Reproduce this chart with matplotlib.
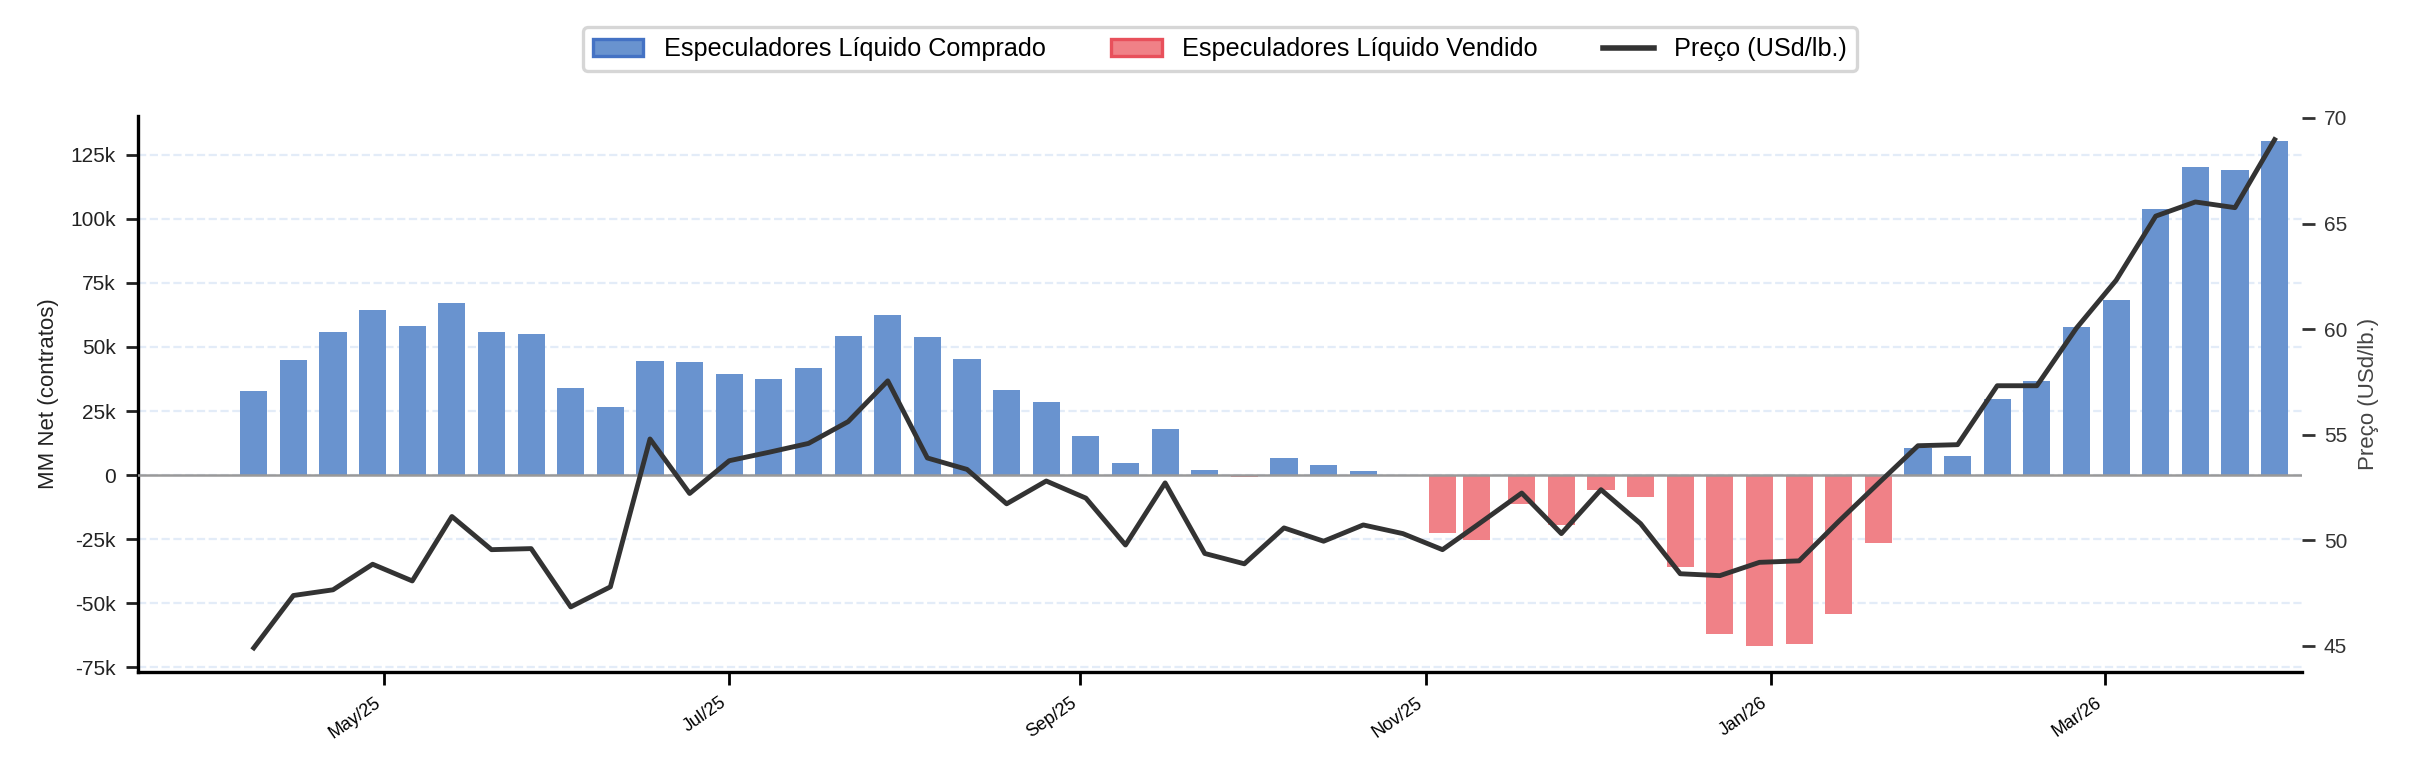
import matplotlib
matplotlib.use("Agg")
import matplotlib.pyplot as plt
import matplotlib.dates as mdates
from matplotlib.patches import Patch
from matplotlib.lines import Line2D
from matplotlib.ticker import FuncFormatter, MultipleLocator
import pandas as pd

plt.rcParams['font.family'] = ['Liberation Sans', 'DejaVu Sans']

# --- data (COT report dates, MM net in thousand contracts, price in USd/lb) ---
dates = [
    '2025-04-08', '2025-04-15', '2025-04-22', '2025-04-29', '2025-05-06', '2025-05-13',
    '2025-05-20', '2025-05-27', '2025-06-03', '2025-06-10', '2025-06-17', '2025-06-24',
    '2025-07-01', '2025-07-08', '2025-07-15', '2025-07-22', '2025-07-29', '2025-08-05',
    '2025-08-12', '2025-08-19', '2025-08-26', '2025-09-02', '2025-09-09', '2025-09-16',
    '2025-09-23', '2025-09-30', '2025-10-07', '2025-10-14', '2025-10-21', '2025-10-28',
    '2025-11-04', '2025-11-10', '2025-11-18', '2025-11-25', '2025-12-02', '2025-12-09',
    '2025-12-16', '2025-12-23', '2025-12-30', '2026-01-06', '2026-01-13', '2026-01-20',
    '2026-01-27', '2026-02-03', '2026-02-10', '2026-02-17', '2026-02-24', '2026-03-03',
    '2026-03-10', '2026-03-17', '2026-03-24', '2026-03-31',
]
mm_net_k = [
    32.8, 44.9, 55.8, 64.3, 58.0, 67.0, 55.8, 54.9, 33.9, 26.6, 44.5, 44.0,
    39.4, 37.4, 41.8, 54.2, 62.4, 53.9, 45.2, 33.1, 28.5, 15.2, 4.6, 17.9,
    1.9, -0.6, 6.6, 3.9, 1.5, 0.0, -22.5, -25.5, -11.2, -19.5, -5.7, -8.4,
    -35.7, -61.9, -66.8, -65.8, -54.0, -26.4, 10.6, 7.5, 29.7, 36.8, 57.7, 68.2,
    104.0, 120.1, 118.9, 130.2,
]
price = [
    44.91, 47.39, 47.66, 48.87, 48.08, 51.13, 49.56, 49.61, 46.85, 47.80, 54.80, 52.22,
    53.77, 54.17, 54.59, 55.62, 57.55, 53.90, 53.36, 51.73, 52.81, 52.00, 49.78, 52.72,
    49.38, 48.89, 50.59, 49.96, 50.73, 50.32, 49.56, 50.70, 52.24, 50.32, 52.40, 50.79,
    48.42, 48.33, 48.96, 49.03, 50.90, 52.70, 54.48, 54.53, 57.32, 57.32, 60.05, 62.31,
    65.35, 66.02, 65.75, 68.97,
]

BLUE = '#6993CF'
BLUE_EDGE = '#4472C4'
RED = '#F08187'
RED_EDGE = '#E8505B'
LINE = '#333333'

x = pd.to_datetime(dates)
net = [v * 1000 for v in mm_net_k]
bar_colors = [BLUE if v >= 0 else RED for v in net]

fig = plt.figure(figsize=(12.08, 3.905), dpi=200)
ax = fig.add_axes([0.0572, 0.1396, 0.8955, 0.7119])
ax2 = ax.twinx()

ax.bar(x, net, width=4.8, color=bar_colors, linewidth=0, zorder=2)
ax.axhline(0, color='#999999', linewidth=0.9, zorder=3)
ax2.plot(x, price, color=LINE, linewidth=1.75, zorder=4)

# y axes
ax.set_ylim(-76800, 140100)
ax.yaxis.set_major_locator(MultipleLocator(25000))
ax.yaxis.set_major_formatter(FuncFormatter(lambda v, p: '0' if v == 0 else f'{v/1000:.0f}k'))
ax.set_ylabel('MM Net (contratos)', fontsize=8, color='#222222')
ax.yaxis.grid(True, linestyle='--', color='#E3ECF8', linewidth=0.8)
ax.set_axisbelow(True)

ax2.set_ylim(43.77, 70.09)
ax2.yaxis.set_major_locator(MultipleLocator(5))
ax2.set_ylabel('Preço (USd/lb.)', fontsize=8, color='#444444')
ax2.tick_params(axis='y', labelsize=7.5, colors='#333333', length=4.5, width=1.0)

# x axis
ax.set_xlim(pd.Timestamp('2025-03-18 14:00'), pd.Timestamp('2026-04-04 19:00'))
ax.xaxis.set_major_locator(mdates.MonthLocator(bymonth=[1, 3, 5, 7, 9, 11]))
ax.xaxis.set_major_formatter(mdates.DateFormatter('%b/%y'))
plt.setp(ax.get_xticklabels(), rotation=35, ha='right', fontsize=6.5)
ax.tick_params(axis='y', labelsize=7.5, colors='#222222', length=4.5, width=1.0)
ax.tick_params(axis='x', length=4.5, width=1.0)

for s in ['top', 'right']:
    ax.spines[s].set_visible(False)
for s in ['top', 'right', 'left', 'bottom']:
    ax2.spines[s].set_visible(False)
ax.spines['left'].set_linewidth(1.2)
ax.spines['bottom'].set_linewidth(1.2)

handles = [
    Patch(facecolor=BLUE, edgecolor=BLUE_EDGE, linewidth=1.2, label='Especuladores Líquido Comprado'),
    Patch(facecolor=RED, edgecolor=RED_EDGE, linewidth=1.2, label='Especuladores Líquido Vendido'),
    Line2D([0], [0], color=LINE, linewidth=2, label='Preço (USd/lb.)'),
]
leg = ax.legend(handles=handles, loc='lower center', bbox_to_anchor=(0.5, 1.08), ncol=3,
                fontsize=9.1, frameon=True, borderaxespad=0, columnspacing=2.6)
leg.get_frame().set_edgecolor('#CCCCCC')
leg.get_frame().set_linewidth(1.2)

fig.savefig('out.png', dpi=200)
